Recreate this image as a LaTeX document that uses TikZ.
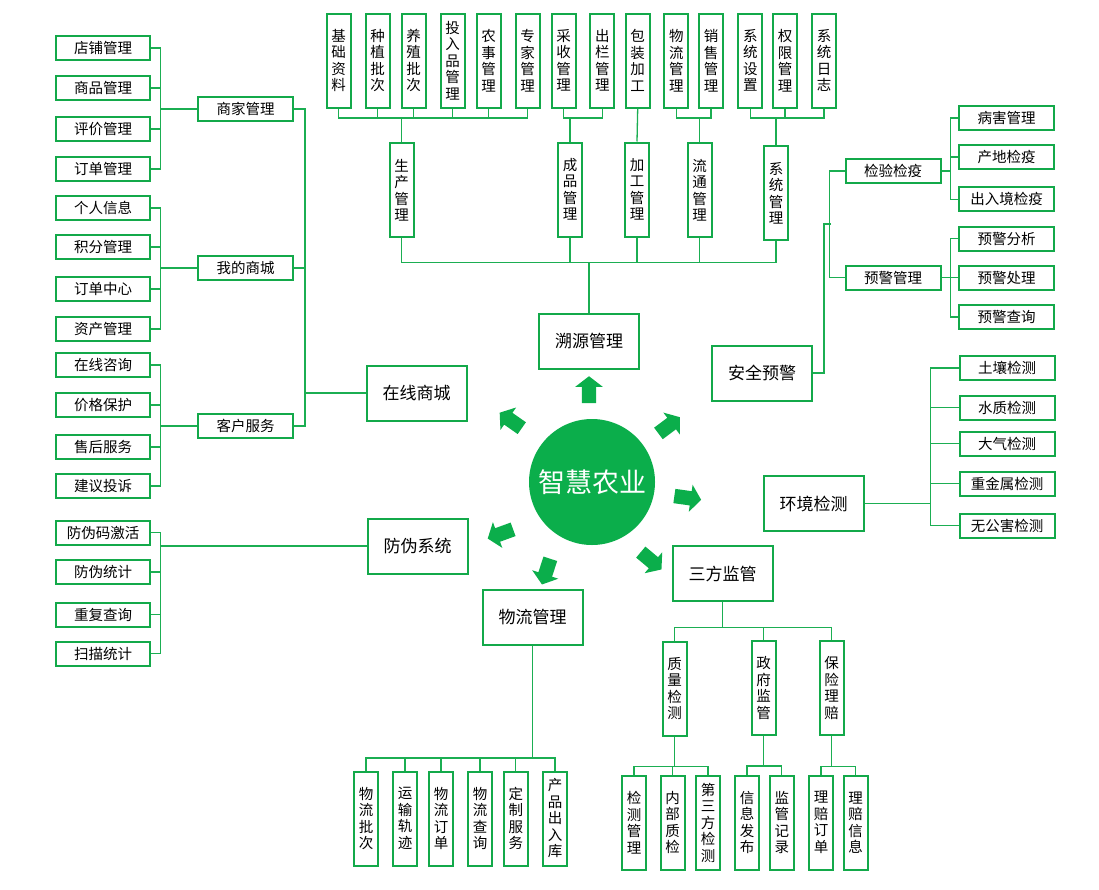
\documentclass[tikz,border=0pt]{standalone}
\usepackage{fontspec}
\setmainfont{Noto Sans CJK SC}
\usetikzlibrary{shapes.arrows}
\definecolor{leafGreen}{HTML}{0BAE4B}
\definecolor{frameGreen}{HTML}{13A94A}
\definecolor{linkGreen}{HTML}{1BAE52}
\tikzset{
    leafbox/.style={draw=frameGreen,fill=white,line width=2pt,inner sep=0pt,
        minimum width=94pt,minimum height=24pt,font=\fontsize{14.5}{17}\selectfont},
    vbox/.style={draw=frameGreen,fill=white,line width=2pt,inner sep=0pt,align=center,
        minimum width=24pt,minimum height=94pt,font=\fontsize{14.5}{16.5}\selectfont},
    bigbox/.style={draw=frameGreen,fill=white,line width=2pt,inner sep=0pt,
        minimum width=100pt,minimum height=55pt,font=\fontsize{17}{20}\selectfont},
    hub/.style={circle,fill=leafGreen,minimum size=126pt,inner sep=0pt,
        text=white,font=\fontsize{27}{30}\selectfont},
    blockarrow/.style={single arrow,fill=leafGreen,inner xsep=0pt,inner ysep=7pt,
        minimum height=27pt,minimum width=27pt,single arrow head extend=6.5pt,
        single arrow tip angle=105},
    link/.style={draw=linkGreen,line width=1.3pt}
}

\begin{document}
\begin{tikzpicture}[x=1pt,y=-1pt]
    \useasboundingbox (0,0) rectangle (1099,889);

    % 中心
    \node[hub] (hub) at (592,482) {智慧农业};
    \node[blockarrow,rotate=90] (arrUp) at (589,392.5) {};
    \node[blockarrow,rotate=145] (arrUL) at (513,422) {};
    \node[blockarrow,rotate=37] (arrUR) at (667,427) {};
    \node[blockarrow,rotate=-8] (arrR) at (685,497.5) {};
    \node[blockarrow,rotate=200] (arrLL) at (503,533) {};
    \node[blockarrow,rotate=-108] (arrDL) at (547,569) {};
    \node[blockarrow,rotate=-40] (arrLR) at (649,559) {};

    % 在线商城
    \node[bigbox] (zaixian) at (416.5,393) {在线商城};
    \node[leafbox,minimum width=95pt] (shangjia) at (245.5,109) {商家管理};
    \node[leafbox,minimum width=95pt] (wode) at (245.5,268) {我的商城};
    \node[leafbox,minimum width=95pt] (kehu) at (245.5,426) {客户服务};
    \node[leafbox] (dianpu) at (103,48) {店铺管理};
    \node[leafbox] (shangpin) at (103,88) {商品管理};
    \node[leafbox] (pingjia) at (103,129) {评价管理};
    \node[leafbox] (dingdan) at (103,169) {订单管理};
    \node[leafbox] (geren) at (103,208) {个人信息};
    \node[leafbox] (jifen) at (103,247) {积分管理};
    \node[leafbox] (ddzx) at (103,289) {订单中心};
    \node[leafbox] (zichan) at (103,329) {资产管理};
    \node[leafbox] (zixun) at (103,365) {在线咨询};
    \node[leafbox] (jiage) at (103,405) {价格保护};
    \node[leafbox] (shouhou) at (103,447) {售后服务};
    \node[leafbox] (jianyi) at (103,486) {建议投诉};
    \draw[link] (dianpu.east) -- ++(9.3,0) |- (shangjia.west);
    \draw[link] (shangpin.east) -- ++(9.3,0) |- (shangjia.west);
    \draw[link] (pingjia.east) -- ++(9.3,0) |- (shangjia.west);
    \draw[link] (dingdan.east) -- ++(9.3,0) |- (shangjia.west);
    \draw[link] (geren.east) -- ++(9.3,0) |- (wode.west);
    \draw[link] (jifen.east) -- ++(9.3,0) |- (wode.west);
    \draw[link] (ddzx.east) -- ++(9.3,0) |- (wode.west);
    \draw[link] (zichan.east) -- ++(9.3,0) |- (wode.west);
    \draw[link] (zixun.east) -- ++(9.3,0) |- (kehu.west);
    \draw[link] (jiage.east) -- ++(9.3,0) |- (kehu.west);
    \draw[link] (shouhou.east) -- ++(9.3,0) |- (kehu.west);
    \draw[link] (jianyi.east) -- ++(9.3,0) |- (kehu.west);
    \draw[link] (shangjia.east) -- ++(11,0) |- (zaixian.west);
    \draw[link] (wode.east) -- ++(11,0) |- (zaixian.west);
    \draw[link] (kehu.east) -- ++(11,0) |- (zaixian.west);

    % 防伪系统
    \node[bigbox] (fangwei) at (417.7,546) {防伪系统};
    \node[leafbox] (fwm) at (103,532.5) {防伪码激活};
    \node[leafbox] (fwtj) at (103,572) {防伪统计};
    \node[leafbox] (cfcx) at (103,614.5) {重复查询};
    \node[leafbox] (smtj) at (103,653.7) {扫描统计};
    \draw[link] (fwm.east) -- ++(9.3,0) |- (fangwei.west);
    \draw[link] (fwtj.east) -- ++(9.3,0) |- (fangwei.west);
    \draw[link] (cfcx.east) -- ++(9.3,0) |- (fangwei.west);
    \draw[link] (smtj.east) -- ++(9.3,0) |- (fangwei.west);

    % 溯源管理
    \node[bigbox] (suyuan) at (589,341) {溯源管理};
    \coordinate (suyuanBus) at (589,262.5);
    \node[vbox] (jichu) at (338.7,60.5) {基\\础\\资\\料};
    \node[vbox] (zhongzhi) at (377.7,60.5) {种\\植\\批\\次};
    \node[vbox] (yangzhi) at (413.7,60.5) {养\\殖\\批\\次};
    \node[vbox] (touru) at (452.7,60.5) {投\\入\\品\\管\\理};
    \node[vbox] (nongshi) at (488.7,60.5) {农\\事\\管\\理};
    \node[vbox] (zhuanjia) at (527.7,60.5) {专\\家\\管\\理};
    \node[vbox] (caishou) at (563.7,60.5) {采\\收\\管\\理};
    \node[vbox] (chulan) at (602.3,60.5) {出\\栏\\管\\理};
    \node[vbox] (baozhuang) at (637.7,60.5) {包\\装\\加\\工};
    \node[vbox] (wlgl) at (676.3,60.5) {物\\流\\管\\理};
    \node[vbox] (xiaoshou) at (711,60.5) {销\\售\\管\\理};
    \node[vbox] (xtsz) at (750.3,60.5) {系\\统\\设\\置};
    \node[vbox] (quanxian) at (785,60.5) {权\\限\\管\\理};
    \node[vbox] (rizhi) at (824,60.5) {系\\统\\日\\志};
    \node[vbox] (shengchan) at (401.7,190) {生\\产\\管\\理};
    \node[vbox] (chengpin) at (570,189.5) {成\\品\\管\\理};
    \node[vbox] (jiagong) at (637,189.5) {加\\工\\管\\理};
    \node[vbox] (liutong) at (699.7,190) {流\\通\\管\\理};
    \node[vbox] (xitong) at (776,193.3) {系\\统\\管\\理};
    \draw[link] (jichu.south) -- ++(0,9.6) -| (shengchan.north);
    \draw[link] (zhongzhi.south) -- ++(0,9.6) -| (shengchan.north);
    \draw[link] (yangzhi.south) -- ++(0,9.6) -| (shengchan.north);
    \draw[link] (touru.south) -- ++(0,9.6) -| (shengchan.north);
    \draw[link] (nongshi.south) -- ++(0,9.6) -| (shengchan.north);
    \draw[link] (zhuanjia.south) -- ++(0,9.6) -| (shengchan.north);
    \draw[link] (caishou.south) -- ++(0,9.6) -| (chengpin.north);
    \draw[link] (chulan.south) -- ++(0,9.6) -| (chengpin.north);
    \draw[link] (baozhuang.south) -- (jiagong.north);
    \draw[link] (wlgl.south) -- ++(0,9.6) -| (liutong.north);
    \draw[link] (xiaoshou.south) -- ++(0,9.6) -| (liutong.north);
    \draw[link] (xtsz.south) -- ++(0,9.6) -| (xitong.north);
    \draw[link] (quanxian.south) -- ++(0,9.6) -| (xitong.north);
    \draw[link] (rizhi.south) -- ++(0,9.6) -| (xitong.north);
    \draw[link] (shengchan.south) |- (suyuanBus) -- (suyuan.north);
    \draw[link] (chengpin.south) |- (suyuanBus);
    \draw[link] (jiagong.south) |- (suyuanBus);
    \draw[link] (liutong.south) |- (suyuanBus);
    \draw[link] (xitong.south) |- (suyuanBus);

    % 安全预警
    \node[bigbox] (anquan) at (762,373) {安全预警};
    \node[leafbox,minimum width=95pt] (jianyan) at (893,171) {检验检疫};
    \node[leafbox,minimum width=95pt] (yjgl) at (893,277.7) {预警管理};
    \node[leafbox,minimum width=95pt] (binghai) at (1006.5,118) {病害管理};
    \node[leafbox,minimum width=95pt] (chandi) at (1006.5,157) {产地检疫};
    \node[leafbox,minimum width=95pt] (churujing) at (1006.5,199.3) {出入境检疫};
    \node[leafbox,minimum width=95pt] (yjfx) at (1006.5,238.8) {预警分析};
    \node[leafbox,minimum width=95pt] (yjcl) at (1006.5,277.8) {预警处理};
    \node[leafbox,minimum width=95pt] (yjcx) at (1006.5,317) {预警查询};
    \coordinate (anquanJoin) at (830.7,224);
    \draw[link] (binghai.west) -- ++(-7.7,0) |- (jianyan.east);
    \draw[link] (chandi.west) -- ++(-7.7,0) |- (jianyan.east);
    \draw[link] (churujing.west) -- ++(-7.7,0) |- (jianyan.east);
    \draw[link] (yjfx.west) -- ++(-7.7,0) |- (yjgl.east);
    \draw[link] (yjcl.west) -- ++(-7.7,0) |- (yjgl.east);
    \draw[link] (yjcx.west) -- ++(-7.7,0) |- (yjgl.east);
    \draw[link] (jianyan.west) -- ++(-15,0) |- (yjgl.west);
    \draw[link] (anquan.east) -- ++(11,0) |- (anquanJoin);

    % 环境检测
    \node[bigbox] (huanjing) at (813.7,503.5) {环境检测};
    \node[leafbox,minimum width=95pt] (turang) at (1007,368) {土壤检测};
    \node[leafbox,minimum width=95pt] (shuizhi) at (1007,407.5) {水质检测};
    \node[leafbox,minimum width=95pt] (daqi) at (1007,443.8) {大气检测};
    \node[leafbox,minimum width=95pt] (zhongjinshu) at (1007,483.8) {重金属检测};
    \node[leafbox,minimum width=95pt] (wugonghai) at (1007,525.8) {无公害检测};
    \draw[link] (turang.west) -- ++(-28,0) |- (huanjing.east);
    \draw[link] (shuizhi.west) -- ++(-28,0) |- (huanjing.east);
    \draw[link] (daqi.west) -- ++(-28,0) |- (huanjing.east);
    \draw[link] (zhongjinshu.west) -- ++(-28,0) |- (huanjing.east);
    \draw[link] (wugonghai.west) -- ++(-28,0) |- (huanjing.east);

    % 物流管理
    \node[bigbox] (wuliu) at (532.5,617) {物流管理};
    \node[vbox] (wlpc) at (366,818.5) {物\\流\\批\\次};
    \node[vbox] (ysgj) at (405,818.5) {运\\输\\轨\\迹};
    \node[vbox] (wldd) at (441,818.5) {物\\流\\订\\单};
    \node[vbox] (wlcx) at (480,818.5) {物\\流\\查\\询};
    \node[vbox] (dzfw) at (515.8,818.5) {定\\制\\服\\务};
    \node[vbox] (cpcrk) at (555,818.5) {产\\品\\出\\入\\库};
    \draw[link] (wuliu.south) -- ++(0,112.5) -| (wlpc.north);
    \draw[link] (wuliu.south) -- ++(0,112.5) -| (ysgj.north);
    \draw[link] (wuliu.south) -- ++(0,112.5) -| (wldd.north);
    \draw[link] (wuliu.south) -- ++(0,112.5) -| (wlcx.north);
    \draw[link] (wuliu.south) -- ++(0,112.5) -| (dzfw.north);
    \draw[link] (wuliu.south) -- ++(0,112.5) -| (cpcrk.north);

    % 三方监管
    \node[bigbox] (sanfang) at (722.5,573.5) {三方监管};
    \node[vbox] (zhiliang) at (674.7,688.5) {质\\量\\检\\测};
    \node[vbox] (zhengfu) at (763.7,688) {政\\府\\监\\管};
    \node[vbox] (baoxian) at (831.7,688.2) {保\\险\\理\\赔};
    \node[vbox] (jcgl) at (634,822.5) {检\\测\\管\\理};
    \node[vbox] (nbzj) at (672.7,822.5) {内\\部\\质\\检};
    \node[vbox] (dsfjc) at (708,822.5) {第\\三\\方\\检\\测};
    \node[vbox] (xxfb) at (747,822.5) {信\\息\\发\\布};
    \node[vbox] (jgjl) at (781.8,822.5) {监\\管\\记\\录};
    \node[vbox] (lpdd) at (821,822.5) {理\\赔\\订\\单};
    \node[vbox] (lpxx) at (855.7,822.5) {理\\赔\\信\\息};
    \draw[link] (sanfang.south) -- ++(0,25.7) -| (zhiliang.north);
    \draw[link] (sanfang.south) -- ++(0,25.7) -| (zhengfu.north);
    \draw[link] (sanfang.south) -- ++(0,25.7) -| (baoxian.north);
    \draw[link] (zhiliang.south) -- ++(0,30) -| (jcgl.north);
    \draw[link] (zhiliang.south) -- ++(0,30) -| (nbzj.north);
    \draw[link] (zhiliang.south) -- ++(0,30) -| (dsfjc.north);
    \draw[link] (zhengfu.south) -- ++(0,30) -| (xxfb.north);
    \draw[link] (zhengfu.south) -- ++(0,30) -| (jgjl.north);
    \draw[link] (baoxian.south) -- ++(0,30) -| (lpdd.north);
    \draw[link] (baoxian.south) -- ++(0,30) -| (lpxx.north);
\end{tikzpicture}
\end{document}
